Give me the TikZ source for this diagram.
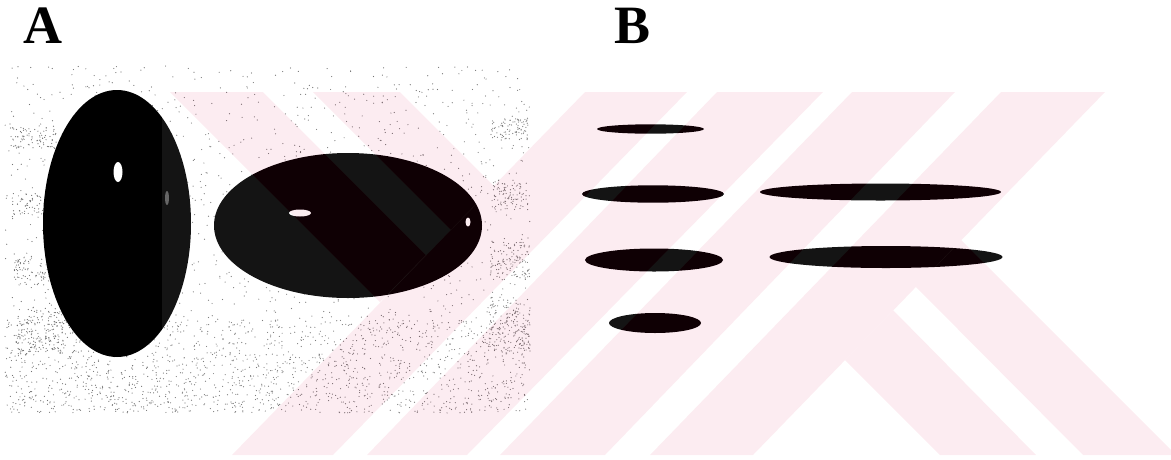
\documentclass[tikz,border=0pt]{standalone}
\usepackage{fontspec}
\setmainfont{Liberation Serif}
\definecolor{wmred}{RGB}{213,0,67}
\tikzset{
  grain/.style={fill=black!55},
  spot/.style={fill=white},
  wmark/.style={fill=wmred, fill opacity=.075},
  wmclear/.style={fill=white, fill opacity=.078, even odd rule},
  panellabel/.style={inner sep=0pt, anchor=base west, font=\fontsize{54}{54}\selectfont\bfseries}
}
\newcommand{\wmbands}{%
  (170,92) -- (263,92) -- (426,255) -- (380,302) -- cycle
  (313,92) -- (400,92) -- (494,186) -- (451,230) -- cycle
  (585,92) -- (687,92) -- (333,455) -- (232,455) -- cycle
  (717,92) -- (823,92) -- (467,455) -- (367,455) -- cycle
  (852,92) -- (955,92) -- (605,455) -- (500,455) -- cycle
  (1001,92) -- (1105,92) -- (753,455) -- (650,455) -- cycle
  (845,360) -- (893,310) -- (1036,455) -- (940,455) -- cycle
  (916,287) -- (961,240) -- (1171,450) -- (1171,455) -- (1083,455) -- cycle}

\begin{document}
\begin{tikzpicture}[x=1pt,y=-1pt]
\useasboundingbox (0,0) rectangle (1171,459);

% panel A: stippled background of the photo
\pgfmathsetseed{42}
\foreach \x/\y/\w/\h/\n in {5/66/525/347/1500, 5/320/525/93/1300,
    10/127/48/22/80, 12/193/40/22/70, 14/257/42/28/90, 16/310/48/45/160,
    492/118/36/22/80, 492/180/36/30/90, 490/240/40/40/120, 488/297/42/55/170}{
  \foreach \k in {1,...,\n}{
    \fill[grain] ({\x+\w*rnd},{\y+\h*rnd}) circle (.6);
  }
}

% the two bodies
\fill (117,223.5) ellipse (74 and 133.5);
\fill[spot] (118,172) ellipse (4.5 and 10);
\fill[white, fill opacity=.35] (167,198) ellipse (2 and 7);
\fill (348,225.5) ellipse (134 and 72.5);
\fill[spot] (300,213) ellipse (11 and 3.5);
\fill[spot] (468,222) ellipse (2.5 and 4.5);

% panel B: bands
\fill (650.5,129) ellipse (53.5 and 4.7);
\fill (653,194) ellipse (71 and 8.7);
\fill (654,260) ellipse (69 and 11.5);
\fill (655,323) ellipse (46 and 10);
\fill (880.5,192) ellipse (120.5 and 8.5);
\fill (886,257) ellipse (116.5 and 11);

% stripes over both panels
\fill[wmark] \wmbands;
\fill[wmclear] (162,92) rectangle (1171,455) \wmbands;

\node[panellabel] (labA) at (23,43) {A};
\node[panellabel] (labB) at (614,43) {B};
\end{tikzpicture}
\end{document}
